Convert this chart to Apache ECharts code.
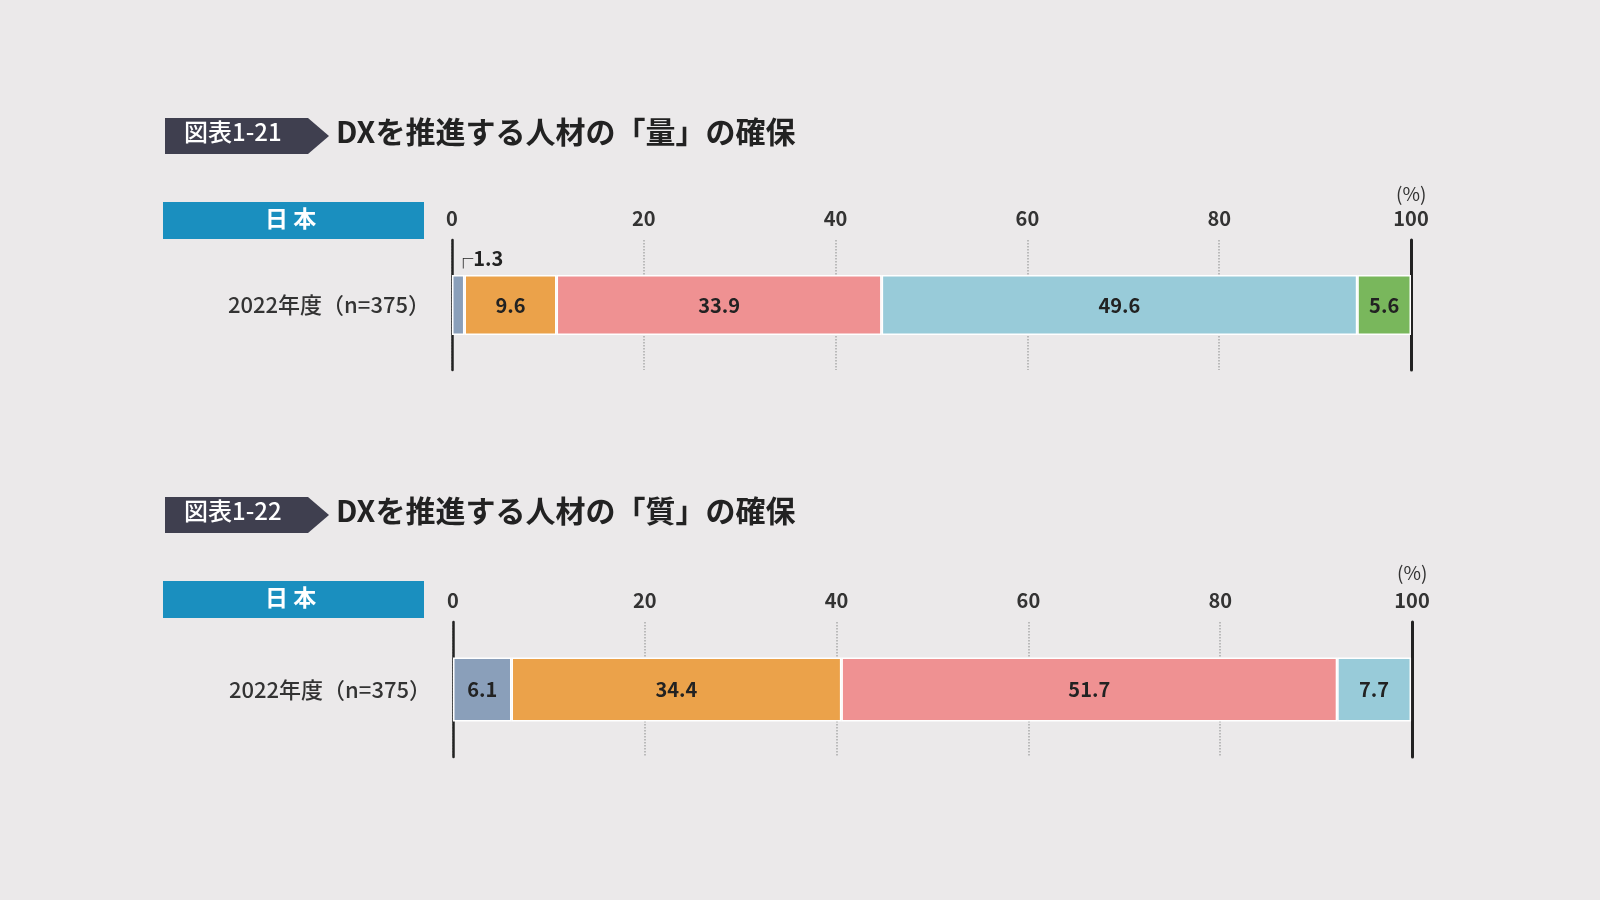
<!DOCTYPE html>
<html><head><meta charset="utf-8">
<script src="https://cdn.jsdelivr.net/npm/echarts@6/dist/echarts.min.js"></script>
<style>html,body{margin:0;padding:0;background:#ebe9ea}#c{width:1600px;height:900px}</style>
</head><body><div id="c"></div>
<script>
const category = ['2022年度（n=375）'];
const ticks = [0, 20, 40, 60, 80, 100];
const top1 = [1.3, 9.6, 33.9, 49.6, 5.6];
const top2 = [6.1, 34.4, 51.7, 7.7];
const colors1 = ['#8a9fba', '#eba24a', '#ef9192', '#98cbd9', '#79b75c'];
const colors2 = ['#8a9fba', '#eba24a', '#ef9192', '#98cbd9'];
const FONT = '"Noto Sans CJK JP", sans-serif';

const chart = echarts.init(document.getElementById('c'));
function xAx(i){return {gridIndex:i,type:'value',position:'top',min:ticks[0],max:ticks[ticks.length-1],interval:20,
  axisLine:{show:false},axisTick:{show:false},
  axisLabel:{color:'#333',fontFamily:FONT,fontWeight:'bold',fontSize:20,margin:12},
  splitLine:{show:true,lineStyle:{color:'#aaa',type:'dotted',width:1.5}}};}
function yAxL(i){return {gridIndex:i,type:'category',data:category,axisTick:{show:false},
  axisLine:{lineStyle:{color:'#222',width:2.5}},
  axisLabel:{color:'#333',fontFamily:FONT,fontSize:22,fontWeight:500,margin:22}};}
function yAxR(i){return {gridIndex:i,type:'category',data:category,position:'right',axisTick:{show:false},
  axisLine:{lineStyle:{color:'#222',width:3}},axisLabel:{show:false}};}
function mk(vals,cols,gi,bw){return vals.map((v,k)=>({type:'bar',stack:'s'+gi,xAxisIndex:gi,yAxisIndex:gi*2,barWidth:bw,
  data:[v],itemStyle:{color:cols[k],borderColor:'#fff',borderWidth:1.5},
  label:(gi===0&&k===0)?{show:true,position:'top',offset:[20,-2],formatter:'┌{c}',fontFamily:FONT,fontWeight:'bold',fontSize:20,color:'#222'}
   :{show:true,position:'inside',formatter:'{c}',fontFamily:FONT,fontWeight:'bold',fontSize:20,color:'#222'}}));}
function header(y,label,title){return [
  {type:'polygon',shape:{points:[[165,y-18],[308,y-18],[329,y],[308,y+18],[165,y+18]]},style:{fill:'#3f3f4f'}},
  {type:'text',left:184,top:y-16,style:{text:label,fill:'#fff',font:'500 24px '+FONT}},
  {type:'text',left:336,top:y-19,style:{text:title,fill:'#222',font:'bold 30px '+FONT}}];}
function blue(y){return [
  {type:'rect',shape:{x:163,y:y,width:261,height:37},style:{fill:'#1a8fbf'}},
  {type:'text',left:265,top:y+5,style:{text:'日 本',fill:'#fff',font:'bold 23px '+FONT}}];}
chart.setOption({
  backgroundColor:'#ebe9ea',
  grid:[{left:452,right:189,top:240,height:130},{left:453,right:188,top:622,height:135}],
  xAxis:[xAx(0),xAx(1)],
  yAxis:[yAxL(0),yAxR(0),yAxL(1),yAxR(1)],
  series:[...mk(top1,colors1,0,60),...mk(top2,colors2,1,64)],
  graphic:[...header(136,'図表1-21','DXを推進する人材の「量」の確保'),
    ...header(515,'図表1-22','DXを推進する人材の「質」の確保'),
    ...blue(202),...blue(581),
    {type:'text',left:1396,top:184,style:{text:'(%)',fill:'#333',font:'19px '+FONT}},
    {type:'text',left:1397,top:563,style:{text:'(%)',fill:'#333',font:'19px '+FONT}}]
});
</script></body></html>
